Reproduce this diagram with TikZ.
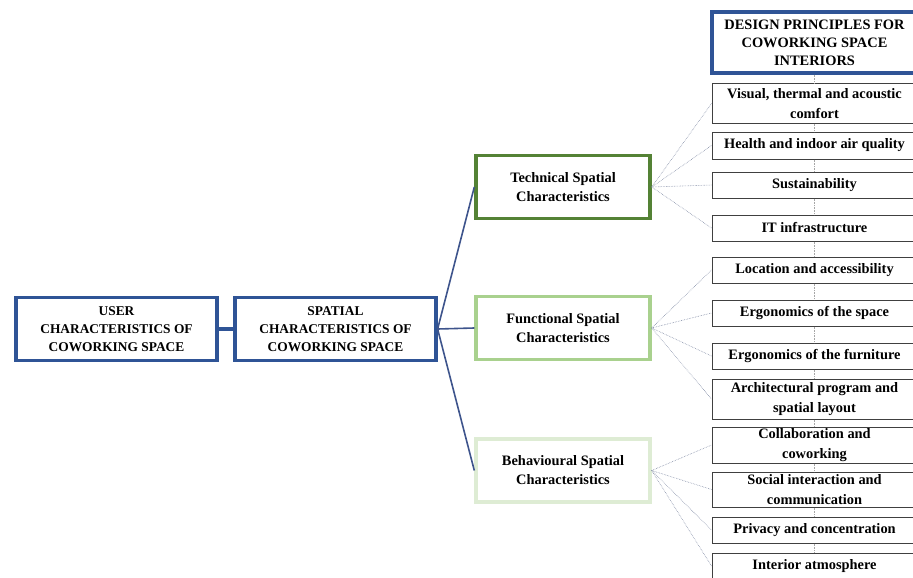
\documentclass[tikz,border=0pt]{standalone}
\usepackage{fontspec}
\setmainfont{Liberation Serif}
\usepackage{tikz}

\definecolor{darkblue}{RGB}{47,84,150}
\definecolor{lineblue}{RGB}{62,84,140}
\definecolor{techgreen}{RGB}{84,130,53}
\definecolor{funcgreen}{RGB}{169,209,142}
\definecolor{behgreen}{RGB}{222,236,212}
\definecolor{linkgray}{RGB}{130,140,165}

\begin{document}
\begin{tikzpicture}[
            x=1pt, y=-1pt,
            font=\fontsize{14.4}{19}\selectfont\bfseries,
            mainbox/.style={rectangle,draw=darkblue,line width=3.2pt,fill=white,
                minimum width=#1, minimum height=63pt, inner sep=0pt,
                align=center},
            mainbox/.default=201pt,
            catbox/.style={rectangle,draw=#1,line width=3.4pt,fill=white,
                minimum width=174pt, minimum height=63pt, inner sep=0pt,
                align=center},
            item/.style={rectangle,draw=black!75,line width=1pt,fill=white,
                minimum width=205pt, minimum height=#1, inner sep=0pt,
                align=center, font=\fontsize{14.4}{19.5}\selectfont\bfseries},
            item/.default=26pt,
            trunk/.style={draw=lineblue,line width=1.6pt},
            link/.style={draw=linkgray,line width=0.6pt,densely dotted},
            spine/.style={draw=black!35,line width=0.6pt,densely dotted}
        ]
        \clip (0,0) rectangle (913,578);

        % left part
        \node[mainbox, font=\fontsize{13.4}{18}\selectfont\bfseries] (user) at (116.5, 329)
            {USER\\CHARACTERISTICS OF\\COWORKING SPACE};
        \node[mainbox, font=\fontsize{13.4}{18}\selectfont\bfseries] (spatial) at (335.5, 329)
            {SPATIAL\\CHARACTERISTICS OF\\COWORKING SPACE};
        \draw[trunk, line width=3.6pt, draw=darkblue] (user) -- (spatial);

        % categories
        \node[catbox=techgreen] (tech) at (563, 187) {Technical Spatial\\Characteristics};
        \node[catbox=funcgreen] (func) at (563, 328) {Functional Spatial\\Characteristics};
        \node[catbox=behgreen]  (beh)  at (563, 470.5) {Behavioural Spatial\\Characteristics};
        \draw[trunk] (spatial.east) -- (tech.west);
        \draw[trunk] (spatial.east) -- (func.west);
        \draw[trunk] (spatial.east) -- (beh.west);

        % design principles
        \node[mainbox=205pt, minimum height=61pt, font=\fontsize{14.4}{18}\selectfont\bfseries]
            (dp) at (814.5, 42.5) {DESIGN PRINCIPLES FOR\\COWORKING SPACE\\INTERIORS};
        \node[item=39pt] (visual)   at (814.5, 103.5) {Visual, thermal and acoustic\\comfort};
        \node[item=27pt] (health)   at (814.5, 145.5) {Health and indoor air quality};
        \node[item]      (sust)     at (814.5, 185)   {Sustainability};
        \node[item]      (it)       at (814.5, 228)   {IT infrastructure};
        \node[item]      (location) at (814.5, 270)   {Location and accessibility};
        \node[item]      (ergspace) at (814.5, 313)   {Ergonomics of the space};
        \node[item]      (ergfurn)  at (814.5, 356)   {Ergonomics of the furniture};
        \node[item=40pt] (arch)     at (814.5, 399)   {Architectural program and\\spatial layout};
        \node[item=36pt] (collab)   at (814.5, 445)   {Collaboration and\\coworking};
        \node[item=35pt] (social)   at (814.5, 489.5) {Social interaction and\\communication};
        \node[item]      (privacy)  at (814.5, 530)   {Privacy and concentration};
        \node[item]      (interior) at (814.5, 566)   {Interior atmosphere};

        \foreach \a/\b in {dp/visual, visual/health, health/sust, sust/it,
                it/location, location/ergspace, ergspace/ergfurn, ergfurn/arch,
                arch/collab, collab/social, social/privacy, privacy/interior}
            \draw[spine] (\a.south) -- (\b.north);

        \foreach \t in {visual, health, sust, it}
            \draw[link] (tech.east) -- (\t.west);
        \foreach \t in {location, ergspace, ergfurn, arch}
            \draw[link] (func.east) -- (\t.west);
        \foreach \t in {collab, social, privacy, interior}
            \draw[link] (beh.east) -- (\t.west);
    \end{tikzpicture}
\end{document}
